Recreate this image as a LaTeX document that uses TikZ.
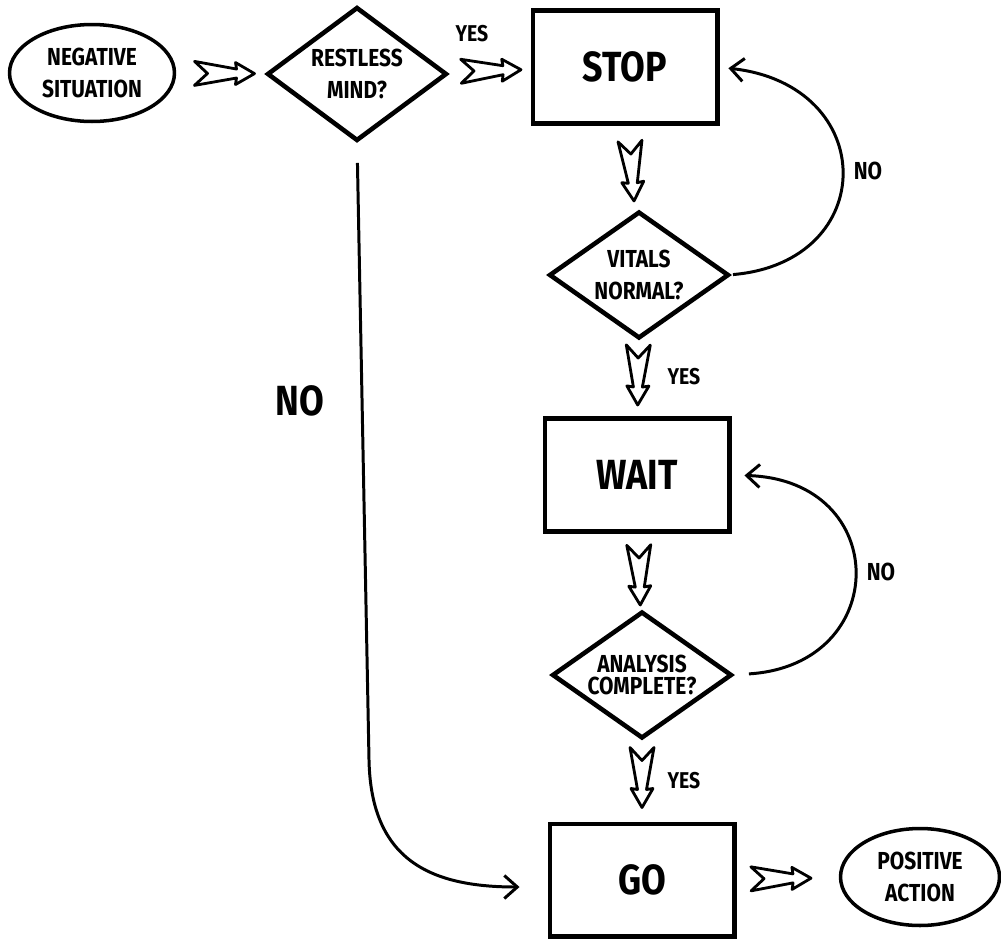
\documentclass[tikz,border=0pt]{standalone}
\usepackage{fontspec}
\setmainfont{Fira Sans}[FakeStretch=0.85]
\usetikzlibrary{shapes.geometric,arrows.meta,calc}
\newcommand{\smalltext}{\bfseries\fontsize{14}{18}\selectfont}
\newcommand{\bigtext}{\bfseries\fontsize{24}{28}\selectfont}
\newcommand{\labeltext}{\bfseries\fontsize{13}{15}\selectfont}
\tikzset{
  boxnode/.style={
    draw, line width=2.3pt,
    minimum width=3.7cm, minimum height=2.26cm,
    inner sep=0pt, outer sep=0pt,
    font=\bigtext
  },
  decision/.style={
    diamond, draw, line width=2.6pt,
    shape aspect=1.42,
    minimum width=3.56cm, minimum height=2.5cm,
    inner sep=0pt, outer sep=0pt,
    align=center, font=\smalltext
  },
  terminal/.style={
    ellipse, draw, line width=2pt,
    minimum width=3.3cm, minimum height=1.94cm,
    inner sep=0pt, outer sep=0pt,
    align=center, font=\smalltext
  },
  yeslabel/.style={inner sep=0pt, font=\labeltext},
  nolabel/.style={inner sep=0pt, font=\smalltext},
}
\tikzset{
  flowline/.style={
    line width=1.7pt,
    -{Straight Barb[length=0.26cm, width=0.46cm]}
  },
  hapt/.style={shift={(\p1)}, rotate=\n1},
  hollowarrow/.style={
    line width=1.6pt, line join=round,
    to path={
      let \p1=($(\tikztostart)!0.5!(\tikztotarget)$),
          \p2=($(\tikztotarget)-(\tikztostart)$),
          \n1={atan2(\y2,\x2)} in
      ([hapt]-0.6cm,0.24cm) -- ([hapt]0.24cm,0.09cm)
      -- ([hapt]0.22cm,0.22cm) -- ([hapt]0.6cm,0cm)
      -- ([hapt]0.22cm,-0.22cm) -- ([hapt]0.24cm,-0.09cm)
      -- ([hapt]-0.6cm,-0.24cm) -- ([hapt]-0.34cm,0cm) -- cycle
    }
  },
}

\begin{document}
\begin{tikzpicture}[x=0.02cm, y=-0.02cm]
    \path[fill=white] (0,0) rectangle (1001,940);
    \useasboundingbox (0,0) rectangle (1001,940);

    %% Main column
    \node[terminal] (neg) at (92,73) {NEGATIVE\\SITUATION};
    \node[decision, shape aspect=1.36, minimum height=2.64cm] (restless) at (357,74) {RESTLESS\\MIND?};
    \node[boxnode] (stop) at (625,67) {STOP};
    \node[decision] (vitals) at (639,275) {VITALS\\NORMAL?};
    \node[boxnode] (wait) at (637,475) {WAIT};
    \node[decision, font=\bfseries\fontsize{14}{13}\selectfont] (analysis) at (642,675) {ANALYSIS\\COMPLETE?};
    \node[boxnode] (go) at (642,880) {GO};
    \node[terminal, minimum width=3.18cm] (pos) at (920,877) {POSITIVE\\ACTION};

    %% Labels
    \node[yeslabel] (yes1) at (472,34) {YES};
    \node[yeslabel] (yes2) at (684,377) {YES};
    \node[yeslabel] (yes3) at (684,781) {YES};
    \node[nolabel] (no1) at (868,171) {NO};
    \node[nolabel] (no2) at (881,572) {NO};
    \node[inner sep=0pt, font=\bigtext] (no3) at (300,401) {NO};

    %% Hollow arrows
    \draw[hollowarrow] (neg) to (restless);
    \draw[hollowarrow] (restless) to (stop);
    \draw[hollowarrow] (stop) to (vitals);
    \draw[hollowarrow] (vitals) to (wait);
    \draw[hollowarrow] (wait) to (analysis);
    \draw[hollowarrow] (analysis) to (go);
    \draw[hollowarrow] (go) to (pos);

    %% Loops back
    \draw[flowline, shorten <=0.1cm, shorten >=0.22cm] (vitals.east) .. controls (880,262) and (880,85) .. (stop.east);
    \draw[flowline, shorten <=0.36cm, shorten >=0.3cm] (analysis.east) .. controls (892,665) and (892,480) .. (wait.east);

    % Restless mind: no
    \coordinate (nobend) at (369,760);
    \draw[flowline, shorten <=0.46cm, shorten >=0.6cm] (restless.south) -- (nobend) .. controls (371,860) and (430,887) .. ([yshift=-0.14cm]go.west);
\end{tikzpicture}
\end{document}
